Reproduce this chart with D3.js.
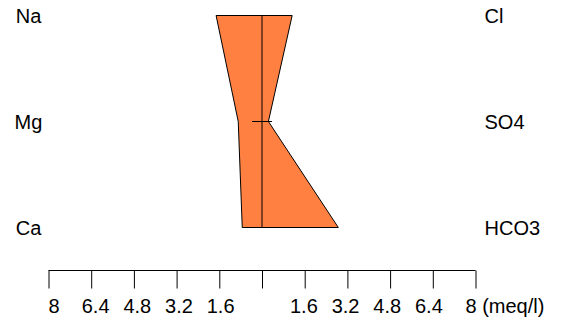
<!DOCTYPE html>
<html>
<head>
<meta charset="utf-8">
<script src="https://cdn.jsdelivr.net/npm/d3@7"></script>
<style>
  body { margin: 0; background: #fff; }
  text { font-family: "Liberation Sans", Arial, sans-serif; fill: #000; }
</style>
</head>
<body>
<div id="chart"></div>
<script>
// Stiff diagram values (meq/l)
const cations = ['Na', 'Mg', 'Ca'];
const anions = ['Cl', 'SO4', 'HCO3'];
const cationValues = [1.72, 0.89, 0.74];
const anionValues = [1.13, 0.24, 2.86];
const tickValues = [-8, -6.4, -4.8, -3.2, -1.6, 0, 1.6, 3.2, 4.8, 6.4, 8];

const width = 561;
const height = 323;

const svg = d3.select('#chart')
  .append('svg')
  .attr('width', width)
  .attr('height', height);

const x = d3.scaleLinear().domain([-8, 8]).range([48.5, 475.5]);
// labels sit a little inside the ticks, like the original
const xLab = d3.scaleLinear().domain([-8, 8]).range([53.5, 470]);
const y = d3.scalePoint().domain(d3.range(cations.length)).range([15.5, 227.5]);

// polygon: cations on the left going down, anions on the right coming back up
const pts = [];
cationValues.forEach((v, i) => pts.push([x(-v), y(i)]));
for (let i = anionValues.length - 1; i >= 0; i--) pts.push([x(anionValues[i]), y(i)]);

svg.append('polygon')
  .attr('points', pts.map(p => p.join(',')).join(' '))
  .style('fill', '#ff8040')
  .style('stroke', '#000')
  .style('stroke-width', 1);

// center line and small level marks
svg.append('line')
  .attr('x1', x(0)).attr('x2', x(0))
  .attr('y1', y(0)).attr('y2', y(cations.length - 1))
  .style('stroke', '#000');

svg.selectAll('.mark')
  .data(d3.range(cations.length))
  .enter().append('line')
  .attr('class', 'mark')
  .attr('x1', x(0) - 10).attr('x2', x(0) + 10)
  .attr('y1', d => y(d)).attr('y2', d => y(d))
  .style('stroke', '#000');

// ion labels
svg.selectAll('.cat')
  .data(cations)
  .enter().append('text')
  .attr('class', 'cat')
  .attr('x', 28.5)
  .attr('y', (d, i) => y(i) + 7)
  .attr('text-anchor', 'middle')
  .style('font-size', '20px')
  .text(d => d);

svg.selectAll('.an')
  .data(anions)
  .enter().append('text')
  .attr('class', 'an')
  .attr('x', 484.5)
  .attr('y', (d, i) => y(i) + 7)
  .style('font-size', '20px')
  .text(d => d);

// bottom axis
const axis = d3.axisBottom(x)
  .tickValues(tickValues)
  .tickSize(18)
  .tickFormat(d => d === 0 ? '' : (d === 8 ? '8 (meq/l)' : d3.format('')(Math.abs(d))));

const gAxis = svg.append('g')
  .attr('transform', 'translate(0,270.5)')
  .call(axis);

gAxis.select('.domain').attr('d', `M${x(-8)},0H${x(8)}`);
gAxis.selectAll('line').style('stroke', '#000');
gAxis.selectAll('.tick text')
  .style('font-size', '20px')
  .style('font-family', '"Liberation Sans", Arial, sans-serif')
  .attr('y', 42)
  .attr('dy', null)
  .attr('x', d => xLab(d) - x(d));
gAxis.selectAll('.tick')
  .filter(d => d === 8)
  .select('text')
  .attr('text-anchor', 'start')
  .attr('x', d => xLab(d) - x(d) - 5);
</script>
</body>
</html>
